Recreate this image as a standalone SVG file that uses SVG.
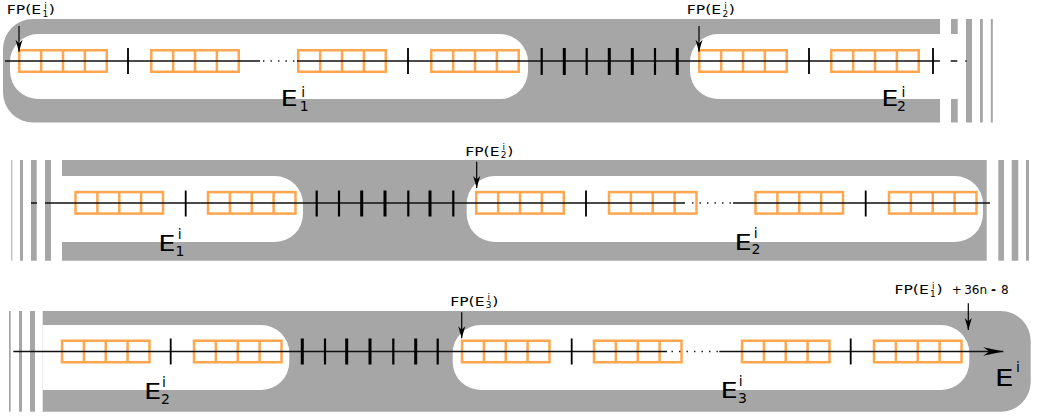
<svg xmlns="http://www.w3.org/2000/svg" width="1037" height="418" viewBox="0 0 1037 418">
<style>
.g{fill:#a6a6a6}
.w{fill:#ffffff}
.blk{fill:none;stroke:#ffa64f;stroke-width:2.5}
.ln{stroke:#111;stroke-width:1.3;fill:none}
.dot{stroke:#111;stroke-width:1.4;fill:none;stroke-dasharray:1.4 6.1}
.tk{stroke:#000;stroke-width:1.8}
.tk2{stroke:#000;stroke-width:2.2}
.tk3{stroke:#000;stroke-width:3}
.ar{stroke:#000;stroke-width:1.2;fill:none}
.t{font-family:"DejaVu Sans",Verdana,sans-serif;fill:#000}
.fp{font-size:13px}
.ss{font-size:9px}
.eb{font-size:21px}
.es{font-size:14px}
</style>
<defs>
<g id="blk" class="blk"><rect width="87.5" height="21.5"/><path d="M21.9,0V21.5M43.75,0V21.5M65.6,0V21.5"/></g>
<marker id="ah" markerUnits="userSpaceOnUse" markerWidth="14" markerHeight="10" viewBox="-13 -5 14 10" refX="0" refY="0" orient="auto" overflow="visible"><path d="M0,0 L-12,-3.5 L-8.5,0 L-12,3.5 Z" fill="#000"/></marker>
<marker id="ahb" markerUnits="userSpaceOnUse" markerWidth="22" markerHeight="10" viewBox="-21 -5 22 10" refX="0" refY="0" orient="auto" overflow="visible"><path d="M0,0 L-20,-4.3 L-14,0 L-20,4.3 Z" fill="#000"/></marker>
</defs>

<g id="row1">
<path class="g" d="M940,19 H33 A30,30 0 0 0 3,49 V92.5 A30,30 0 0 0 33,122.5 H940 Z"/>
<rect class="w" x="10" y="34" width="518" height="65" rx="28"/>
<path class="w" d="M940,34 H718 A28,28 0 0 0 690,62 V71 A28,28 0 0 0 718,99 H940 Z"/>
<rect class="g" x="951" y="19" width="6.7" height="15"/>
<rect class="g" x="951" y="99" width="6.7" height="23.5"/>
<rect class="g" x="966" y="19" width="6" height="103.5"/>
<rect class="g" x="980" y="19" width="2.8" height="103.5"/>
<rect class="g" x="990.8" y="19" width="2" height="103.5"/>
<g id="r1-blocks">
<use href="#blk" x="19.25" y="50.25"/>
<use href="#blk" x="151.25" y="50.25"/>
<use href="#blk" x="298.25" y="50.25"/>
<use href="#blk" x="431.25" y="50.25"/>
<use href="#blk" x="699.25" y="50.25"/>
<use href="#blk" x="831.25" y="50.25"/>
</g>
</g>

<g id="row2">
<rect class="g" x="11.3" y="160" width="1" height="100.7"/>
<rect class="g" x="20" y="160" width="3" height="100.7"/>
<rect class="g" x="31" y="160" width="5.7" height="100.7"/>
<rect class="g" x="45" y="160" width="6" height="100.7"/>
<rect class="g" x="62" y="160" width="924.7" height="100.7"/>
<path class="w" d="M62,176 H275 A28,28 0 0 1 303,204 V214 A28,28 0 0 1 275,242 H62 Z"/>
<rect class="w" x="466.7" y="176" width="516.3" height="66" rx="28"/>
<rect class="g" x="998.3" y="160" width="5.7" height="100.7"/>
<rect class="g" x="1011.7" y="160" width="6.6" height="100.7"/>
<rect class="g" x="1026" y="160" width="3" height="100.7"/>
<g id="r2-blocks">
<use href="#blk" x="75.5" y="192.1"/>
<use href="#blk" x="208" y="192.1"/>
<use href="#blk" x="476.25" y="192.1"/>
<use href="#blk" x="609" y="192.1"/>
<use href="#blk" x="755.5" y="192.1"/>
<use href="#blk" x="889" y="192.1"/>
</g>
</g>

<g id="row3">
<rect class="g" x="9" y="311" width="1.7" height="100.7"/>
<rect class="g" x="19" y="311" width="3" height="100.7"/>
<rect class="g" x="30" y="311" width="5" height="100.7"/>
<path class="g" d="M42.7,311 H1000.7 A30,30 0 0 1 1030.7,341 V381.7 A30,30 0 0 1 1000.7,411.7 H42.7 Z"/>
<path class="w" d="M42.7,325 H261.3 A28,28 0 0 1 289.3,353 V362 A28,28 0 0 1 261.3,390 H42.7 Z"/>
<rect class="w" x="452.7" y="325" width="516.6" height="65" rx="28"/>
<g id="r3-blocks">
<use href="#blk" x="62" y="340.75"/>
<use href="#blk" x="194" y="340.75"/>
<use href="#blk" x="462" y="340.75"/>
<use href="#blk" x="594" y="340.75"/>
<use href="#blk" x="742" y="340.75"/>
<use href="#blk" x="874" y="340.75"/>
</g>
</g>

<g id="connectors">
<path class="ln" d="M5,61 H260 M297,61 H940 M950.7,61 H957.3 M965.3,61 H966.7"/>
<path class="dot" d="M263,61 H297"/>
<path class="ln" d="M31,203 H37 M45,203 H685 M733,203 H990"/>
<path class="dot" d="M692,203 H733"/>
<path class="ln" d="M13.3,351.5 H667"/>
<path class="dot" d="M671.5,351.5 H718"/>
<path class="ln" d="M719.3,351.5 H1003.3" marker-end="url(#ahb)"/>
<g id="ticks">
<path class="tk" d="M128,48V74 M408,48V74 M809,48V74 M933,48V74"/>
<path class="tk2" d="M541.7,48V75 M586.7,48V75 M655,48V75"/>
<path class="tk3" d="M564.3,48V75 M609.3,48V75 M632.3,48V75 M677.3,48V75"/>
<path class="tk" d="M185.7,190.5V216.5 M586,190.5V216.5 M865.7,190.5V216.5"/>
<path class="tk2" d="M316.7,190.5V216.5 M339,190.5V216.5 M408.3,190.5V216.5 M453.3,190.5V216.5"/>
<path class="tk3" d="M361.7,190.5V216.5 M385,190.5V216.5 M430,190.5V216.5"/>
<path class="tk" d="M170.7,338.5V364.5 M571.7,338.5V364.5 M850.7,338.5V364.5"/>
<path class="tk2" d="M325,338.5V364.5 M393.3,338.5V364.5 M437.7,338.5V364.5"/>
<path class="tk3" d="M302.3,338.5V364.5 M346.7,338.5V364.5 M370,338.5V364.5 M415.7,338.5V364.5"/>
</g>
<path class="ar" d="M19,26V51.7" marker-end="url(#ah)"/>
<path class="ar" d="M699,26V51.7" marker-end="url(#ah)"/>
<path class="ar" d="M476.7,161.7V188" marker-end="url(#ah)"/>
<path class="ar" d="M461.7,312.3V338.3" marker-end="url(#ah)"/>
<path class="ar" d="M968.3,303.3V330" marker-end="url(#ah)"/>
</g>

<g id="label-fp1" class="t">
<text class="fp" transform="translate(6.8,14) scale(1.2,1)">FP(E</text>
<text class="ss" x="44.2" y="8.5">i</text>
<text class="ss" x="42.4" y="16.5">1</text>
<text class="fp" transform="translate(48.8,14) scale(1.2,1)">)</text>
</g>
<g id="label-fp2-r1" class="t">
<text class="fp" transform="translate(686.8,14) scale(1.2,1)">FP(E</text>
<text class="ss" x="724.2" y="8.5">i</text>
<text class="ss" x="722.4" y="16.5">2</text>
<text class="fp" transform="translate(728.8,14) scale(1.2,1)">)</text>
</g>
<g id="label-fp2-r2" class="t">
<text class="fp" transform="translate(465.2,155.7) scale(1.2,1)">FP(E</text>
<text class="ss" x="502.6" y="150.2">i</text>
<text class="ss" x="500.8" y="158.2">2</text>
<text class="fp" transform="translate(507.2,155.7) scale(1.2,1)">)</text>
</g>
<g id="label-fp3" class="t">
<text class="fp" transform="translate(450.2,305.7) scale(1.2,1)">FP(E</text>
<text class="ss" x="487.6" y="300.2">i</text>
<text class="ss" x="485.8" y="308.2">3</text>
<text class="fp" transform="translate(492.2,305.7) scale(1.2,1)">)</text>
</g>
<g id="label-fp-end" class="t">
<text class="fp" transform="translate(894.5,294) scale(1.2,1)">FP(E</text>
<text class="ss" x="931.9" y="288.5">i</text>
<text class="ss" x="930.1" y="296.5">1</text>
<text class="fp" transform="translate(936.5,294) scale(1.2,1)">)</text>
<text style="font-size:12px" x="951.8" y="294">+</text>
<text style="font-size:12px" x="964.2" y="294">36n</text>
<text style="font-size:12px;font-weight:bold" x="991.1" y="294">-</text>
<text style="font-size:12px" x="1000.9" y="294">8</text>
</g>

<g id="label-e1-r1" class="t">
<text class="eb" transform="translate(280.6,106) scale(1.3,1)">E</text>
<text class="es" x="301.2" y="96.7">i</text>
<text class="es" x="299.8" y="111">1</text>
</g>
<g id="label-e2-r1" class="t">
<text class="eb" transform="translate(881.3,106) scale(1.3,1)">E</text>
<text class="es" x="901.4" y="96.7">i</text>
<text class="es" x="897.1" y="111">2</text>
</g>
<g id="label-e1-r2" class="t">
<text class="eb" transform="translate(158.3,250.7) scale(1.3,1)">E</text>
<text class="es" x="177.7" y="239">i</text>
<text class="es" x="175.5" y="255.5">1</text>
</g>
<g id="label-e2-r2" class="t">
<text class="eb" transform="translate(734.6,250) scale(1.3,1)">E</text>
<text class="es" x="753.7" y="237.5">i</text>
<text class="es" x="751.5" y="254.3">2</text>
</g>
<g id="label-e2-r3" class="t">
<text class="eb" transform="translate(144,399) scale(1.3,1)">E</text>
<text class="es" x="162" y="386.7">i</text>
<text class="es" x="161.1" y="404">2</text>
</g>
<g id="label-e3-r3" class="t">
<text class="eb" transform="translate(720.6,397.7) scale(1.3,1)">E</text>
<text class="es" x="738.7" y="386">i</text>
<text class="es" x="738.1" y="403">3</text>
</g>
<g id="label-ei" class="t">
<text style="font-size:23px" transform="translate(994.8,386) scale(1.3,1)">E</text>
<text class="es" x="1016" y="371.7">i</text>
</g>
</svg>
